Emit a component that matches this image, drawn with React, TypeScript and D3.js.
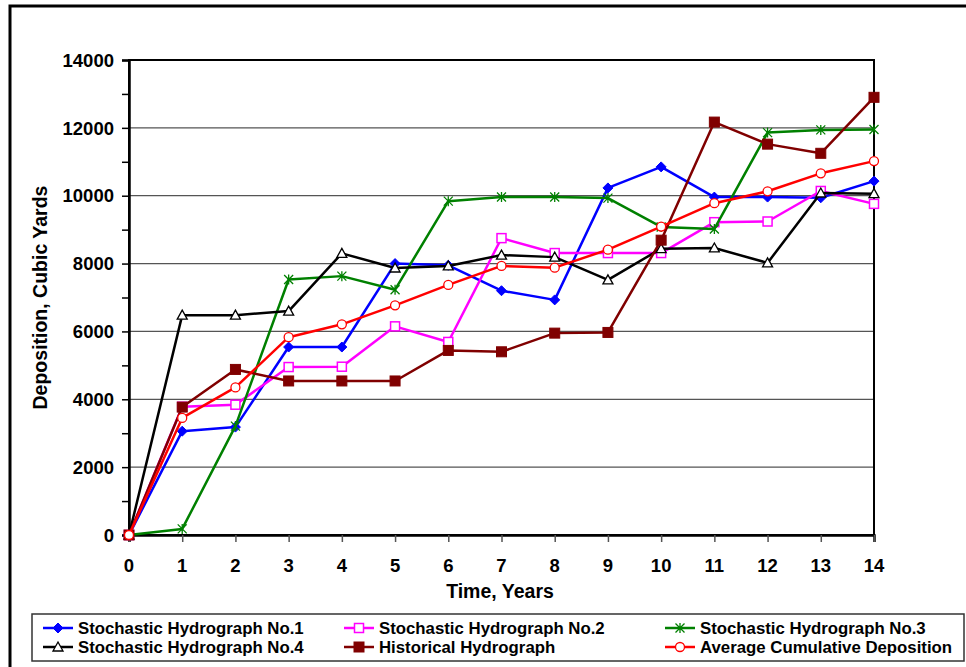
import { useEffect, useRef } from "react"
import * as d3 from "d3"

const years = [0, 1, 2, 3, 4, 5, 6, 7, 8, 9, 10, 11, 12, 13, 14]
const yTicks = [0, 2000, 4000, 6000, 8000, 10000, 12000, 14000]

const stochastic1 = [0, 3060, 3180, 5540, 5540, 8000, 7950, 7200, 6930, 10230, 10850, 9960, 9960, 9940, 10430]
const stochastic2 = [0, 3780, 3840, 4950, 4960, 6150, 5690, 8750, 8310, 8310, 8310, 9220, 9240, 10140, 9760]
const stochastic3 = [0, 180, 3210, 7530, 7630, 7230, 9840, 9960, 9960, 9930, 9080, 9020, 11860, 11940, 11950]
const stochastic4 = [0, 6480, 6480, 6600, 8300, 7870, 7930, 8250, 8190, 7520, 8440, 8460, 8020, 10080, 10060]
const historical = [0, 3770, 4880, 4540, 4540, 4540, 5440, 5400, 5950, 5970, 8690, 12170, 11520, 11250, 12900]
const average = [0, 3450, 4350, 5830, 6210, 6770, 7370, 7930, 7880, 8410, 9090, 9780, 10130, 10660, 11020]

type Series = { name: string; values: number[]; color: string; marker: string }

const series: Series[] = [
  { name: "Stochastic Hydrograph No.1", values: stochastic1, color: "#0000ff", marker: "diamond" },
  { name: "Stochastic Hydrograph No.2", values: stochastic2, color: "#ff00ff", marker: "openSquare" },
  { name: "Stochastic Hydrograph No.3", values: stochastic3, color: "#008000", marker: "star" },
  { name: "Stochastic Hydrograph No.4", values: stochastic4, color: "#000000", marker: "triangle" },
  { name: "Historical Hydrograph", values: historical, color: "#800000", marker: "square" },
  { name: "Average Cumulative Deposition", values: average, color: "#ff0000", marker: "circle" },
]

function drawMarker(g: d3.Selection<SVGGElement, unknown, null, undefined>, kind: string, color: string) {
  if (kind === "diamond") {
    g.append("path").attr("d", "M0,-5L5,0L0,5L-5,0Z").attr("fill", color).attr("stroke", color).attr("stroke-width", 1)
  } else if (kind === "openSquare") {
    g.append("rect").attr("x", -4.5).attr("y", -4.5).attr("width", 9).attr("height", 9)
      .attr("fill", "#fff").attr("stroke", color).attr("stroke-width", 1.5)
  } else if (kind === "square") {
    g.append("rect").attr("x", -5).attr("y", -5).attr("width", 10).attr("height", 10)
      .attr("fill", color).attr("stroke", color).attr("stroke-width", 1)
  } else if (kind === "triangle") {
    g.append("path").attr("d", "M0,-5L5,4L-5,4Z").attr("fill", "#fff").attr("stroke", color).attr("stroke-width", 1.3)
  } else if (kind === "circle") {
    g.append("circle").attr("r", 4.5).attr("fill", "#fff").attr("stroke", color).attr("stroke-width", 1.3)
  } else if (kind === "star") {
    g.append("path").attr("d", "M-4.5,-4.5L4.5,4.5M-4.5,4.5L4.5,-4.5M0,-5L0,5")
      .attr("fill", "none").attr("stroke", color).attr("stroke-width", 1.3)
  }
}

export default function App() {
  const svgRef = useRef<SVGSVGElement>(null)

  useEffect(() => {
    if (!svgRef.current) return
    const svg = d3.select(svgRef.current)
    svg.selectAll("*").remove()

    const W = 966
    const H = 667
    const left = 129
    const right = 874
    const top = 60
    const bottom = 535
    const font = "Liberation Sans, Arial, sans-serif"

    svg.append("rect").attr("width", W).attr("height", H).attr("fill", "#fff")

    // outer frame
    svg.append("rect").attr("x", 10).attr("y", 6).attr("width", 980).attr("height", 700)
      .attr("fill", "none").attr("stroke", "#000").attr("stroke-width", 3)

    const x = d3.scaleLinear().domain([0, 14]).range([left, right])
    const y = d3.scaleLinear().domain([0, 14000]).range([bottom, top])

    // gridlines
    svg.append("g").selectAll("line").data(yTicks.filter((d) => d > 0 && d < 14000)).enter()
      .append("line")
      .attr("x1", left).attr("x2", right)
      .attr("y1", (d) => y(d)).attr("y2", (d) => y(d))
      .attr("stroke", "#555").attr("stroke-width", 1.3)

    // plot border
    svg.append("rect").attr("x", left).attr("y", top).attr("width", right - left).attr("height", bottom - top)
      .attr("fill", "none").attr("stroke", "#000").attr("stroke-width", 2)

    // y axis
    const yAxis = svg.append("g").attr("transform", `translate(${left},0)`)
      .call(d3.axisLeft(y).tickValues(d3.range(0, 14001, 1000)).tickSize(7).tickFormat(() => ""))
    yAxis.select(".domain").attr("stroke-width", 2.5)
    yAxis.selectAll(".tick line").attr("stroke-width", 1.5)

    svg.append("g").selectAll("text").data(yTicks).enter().append("text")
      .attr("x", 114).attr("y", (d) => y(d)).attr("dy", "0.36em")
      .attr("text-anchor", "end").attr("font-family", font).attr("font-weight", "bold").attr("font-size", 18.5)
      .text((d) => String(d))

    // x axis
    const xAxis = svg.append("g").attr("transform", `translate(0,${bottom})`)
      .call(d3.axisBottom(x).tickValues(years).tickSize(7).tickFormat(() => ""))
    xAxis.select(".domain").attr("stroke-width", 2.5)
    xAxis.selectAll(".tick line").attr("stroke-width", 1.5).attr("stroke", "#555")

    svg.append("g").selectAll("text").data(years).enter().append("text")
      .attr("x", (d) => x(d)).attr("y", 572)
      .attr("text-anchor", "middle").attr("font-family", font).attr("font-weight", "bold").attr("font-size", 18.5)
      .text((d) => String(d))

    // axis titles
    svg.append("text").attr("x", 500).attr("y", 598).attr("text-anchor", "middle")
      .attr("font-family", font).attr("font-weight", "bold").attr("font-size", 19.5).text("Time, Years")
    svg.append("text").attr("transform", `translate(47,${(top + bottom) / 2}) rotate(-90)`)
      .attr("text-anchor", "middle").attr("font-family", font).attr("font-weight", "bold").attr("font-size", 19.5)
      .text("Deposition, Cubic Yards")

    // series
    const line = d3.line<number>().x((_, i) => x(years[i])).y((d) => y(d))
    series.forEach((s) => {
      const g = svg.append("g")
      g.append("path").attr("d", line(s.values)).attr("fill", "none")
        .attr("stroke", s.color).attr("stroke-width", 2.5).attr("stroke-linejoin", "round")
      s.values.forEach((v, i) => {
        const m = g.append("g").attr("transform", `translate(${x(years[i])},${y(v)})`)
        drawMarker(m, s.marker, s.color)
      })
    })

    // legend, 3 columns by 2 rows
    svg.append("rect").attr("x", 32).attr("y", 614).attr("width", 932).attr("height", 47)
      .attr("fill", "#fff").attr("stroke", "#333").attr("stroke-width", 1.5)
    const colX = [43, 344, 665]
    const rowY = [628, 647]
    series.forEach((s, k) => {
      const cx = colX[k % 3]
      const cy = rowY[Math.floor(k / 3)]
      const g = svg.append("g")
      g.append("line").attr("x1", cx).attr("x2", cx + 30).attr("y1", cy).attr("y2", cy)
        .attr("stroke", s.color).attr("stroke-width", 2.5)
      const m = g.append("g").attr("transform", `translate(${cx + 15},${cy})`)
      drawMarker(m, s.marker, s.color)
      g.append("text").attr("x", cx + 35).attr("y", cy).attr("dy", "0.36em")
        .attr("font-family", font).attr("font-weight", "bold").attr("font-size", 16.8).text(s.name)
    })
  }, [])

  return (
    <svg
      ref={svgRef}
      width={966}
      height={667}
      style={{ position: "absolute", left: 0, top: 0, display: "block" }}
    />
  )
}
